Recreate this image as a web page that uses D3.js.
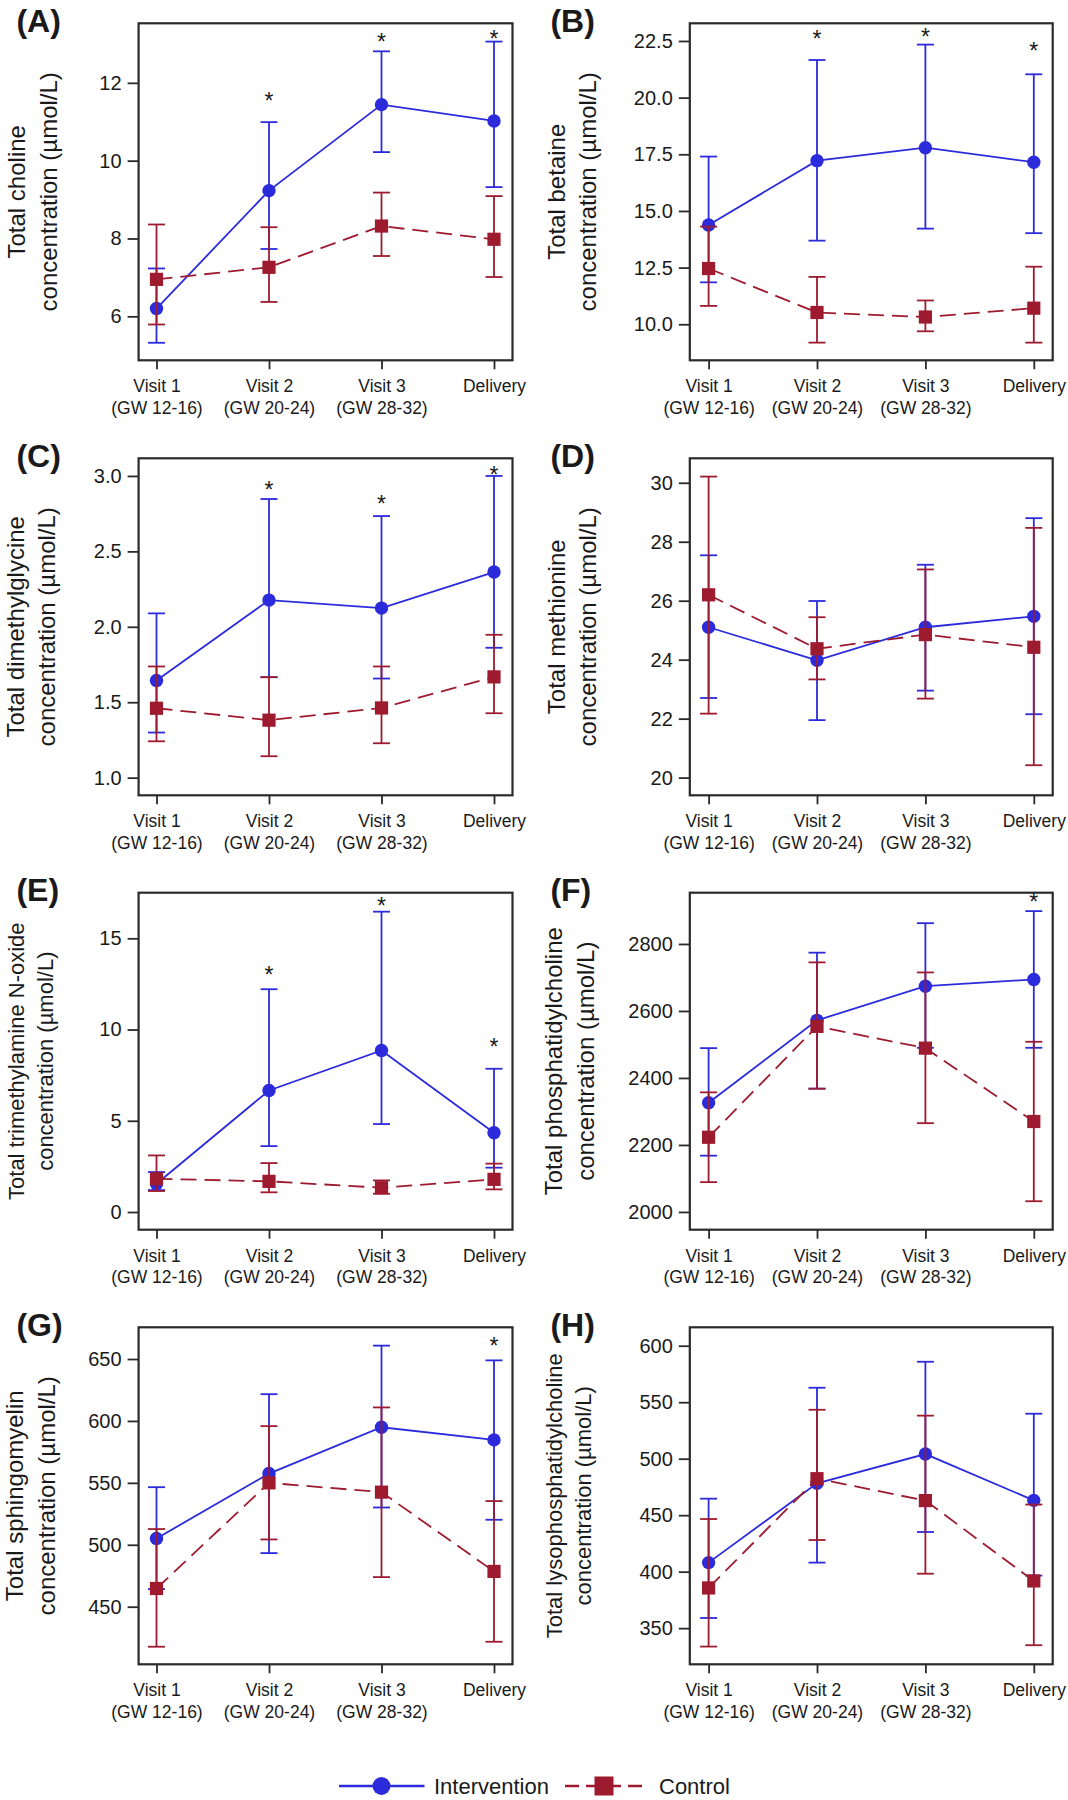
<!DOCTYPE html>
<html>
<head>
<meta charset="utf-8">
<script src="https://cdn.jsdelivr.net/npm/d3@7"></script>
<style>
    body { margin: 0; background: #fff; }
    svg { display: block; }
    text { font-family: "Liberation Sans", Arial, Helvetica, sans-serif; fill: #1a1a1a; }
</style>
</head>
<body>
<svg id="chart" width="1068" height="1800"></svg>
<script>
// x categories
const visits = ['Visit 1', 'Visit 2', 'Visit 3', 'Delivery'];
const visitWeeks = ['(GW 12-16)', '(GW 20-24)', '(GW 28-32)', ''];

const panelIds = ['A', 'B', 'C', 'D', 'E', 'F', 'G', 'H'];
const titleTop = [
    'Total choline', 'Total betaine', 'Total dimethylglycine', 'Total methionine',
    'Total trimethylamine N-oxide', 'Total phosphatidylcholine',
    'Total sphingomyelin', 'Total lysophosphatidylcholine'
];
const titleBottom = 'concentration (µmol/L)';

// y axes
const yDomains = [
    [4.87, 13.53], [8.41, 23.28], [0.883, 3.117], [19.40, 30.83],
    [-0.97, 17.5], [1947, 2953], [403.5, 675.6], [318, 616.3]
];
const yTicks = [
    [6, 8, 10, 12],
    [10, 12.5, 15, 17.5, 20, 22.5],
    [1, 1.5, 2, 2.5, 3],
    [20, 22, 24, 26, 28, 30],
    [0, 5, 10, 15],
    [2000, 2200, 2400, 2600, 2800],
    [450, 500, 550, 600, 650],
    [350, 400, 450, 500, 550, 600]
];
const yFormats = ['d', '.1f', '.1f', 'd', 'd', 'd', 'd', 'd'];

// Intervention: mean, lower, upper
const intMean = [
    [6.20, 9.23, 11.44, 11.02],
    [14.38, 17.22, 17.79, 17.15],
    [1.644, 2.177, 2.124, 2.363],
    [25.10, 23.98, 25.10, 25.47],
    [1.55, 6.66, 8.85, 4.34],
    [2326, 2572, 2674, 2694],
    [505.1, 557.5, 594.9, 584.7],
    [408, 478.2, 504.1, 463.1]
];
const intLow = [
    [5.32, 7.73, 10.22, 9.32],
    [11.85, 13.69, 14.22, 14.02],
    [1.299, 1.666, 1.657, 1.861],
    [22.70, 21.95, 22.95, 22.15],
    [1.2, 3.61, 4.82, 2.43],
    [2168, 2368, 2490, 2490],
    [464.2, 493.3, 530.1, 520.2],
    [359, 408, 435.1, 396.5]
];
const intHigh = [
    [7.23, 10.99, 12.81, 13.06],
    [17.40, 21.66, 22.34, 21.03],
    [2.089, 2.847, 2.734, 3.0],
    [27.54, 25.99, 27.22, 28.80],
    [2.19, 12.21, 16.46, 7.85],
    [2489, 2774, 2862, 2898],
    [546.5, 621.6, 660.8, 648.9],
    [464.6, 562.8, 585.8, 539.8]
];

// Control: mean, lower, upper
const ctlMean = [
    [6.95, 7.26, 8.32, 7.98],
    [12.46, 10.52, 10.32, 10.71],
    [1.460, 1.381, 1.462, 1.668],
    [26.20, 24.37, 24.85, 24.42],
    [1.82, 1.68, 1.33, 1.79],
    [2223, 2554, 2489, 2270],
    [464.7, 550, 542.5, 478.5],
    [385.6, 482.3, 462.9, 391.8]
];
const ctlLow = [
    [5.79, 6.37, 7.55, 7.01],
    [10.81, 9.19, 9.69, 9.19],
    [1.241, 1.142, 1.228, 1.427],
    [22.17, 23.33, 22.68, 20.42],
    [1.15, 1.08, 1.0, 1.24],
    [2089, 2368, 2265, 2032],
    [417.7, 504.3, 473.9, 421.7],
    [333.7, 428, 398.2, 334.9]
];
const ctlHigh = [
    [8.36, 8.29, 9.18, 9.09],
    [14.31, 12.09, 11.05, 12.54],
    [1.737, 1.666, 1.737, 1.947],
    [30.21, 25.44, 27.06, 28.47],
    [3.10, 2.68, 1.73, 2.65],
    [2357, 2745, 2715, 2508],
    [512.7, 595.8, 610.9, 535.3],
    [446.6, 543.3, 538.1, 459.4]
];

// significance stars (value at star centre), null = none
const stars = [
    [null, 11.64, 13.14, 13.24],
    [null, 22.77, 22.84, 22.25],
    [null, 2.934, 2.841, 3.035],
    [null, null, null, null],
    [null, 13.23, 17.0, 9.25],
    [null, null, null, 2936],
    [null, null, null, 664],
    [null, null, null, null]
];

const BLUE = '#2b2bdc';
const RED = '#9e1b2f';
const FRAME = '#2a2a2a';

// layout of the 2x4 grid
const colFrame = [[138.6, 512.5], [689.8, 1052.7]];
const colTicks = [[156.5, 494], [708.6, 1033.8]];
const colLetterX = [16.4, 550.4];
const rowTop = [23.3, 458.3, 892.7, 1327.3];
const plotH = 337;
const titleX = [[25, 56.9], [564.5, 596], [24.3, 55.2], [564.5, 596],
                [23.5, 53], [561.8, 594.3], [22.6, 54.5], [562, 591]];
const titleSize = [24, 24, 24, 24, 22, 24, 24, 22];

const svg = d3.select('#chart');

function drawPanel(i) {
    const col = i % 2;
    const row = Math.floor(i / 2);
    const [x0, x1] = colFrame[col];
    const top = rowTop[row];
    const bottom = top + plotH;

    const x = d3.scalePoint().domain(visits).range(colTicks[col]);
    const y = d3.scaleLinear().domain(yDomains[i]).range([bottom, top]);

    const g = svg.append('g').attr('class', 'panel-' + panelIds[i]);

    // y axis
    const yAxis = d3.axisLeft(y)
        .tickValues(yTicks[i])
        .tickFormat(d3.format(yFormats[i]))
        .tickSize(11)
        .tickPadding(6);
    const ya = g.append('g').attr('transform', `translate(${x0},0)`).call(yAxis);
    ya.select('.domain').remove();
    ya.selectAll('.tick line').attr('stroke', FRAME).attr('stroke-width', 1.8);
    ya.selectAll('.tick text')
        .attr('font-size', 20)
        .attr('font-family', '"Liberation Sans", Arial, sans-serif')
        .attr('fill', '#1a1a1a');

    // x axis
    const xAxis = d3.axisBottom(x).tickSize(9).tickFormat('');
    const xa = g.append('g').attr('transform', `translate(0,${bottom})`).call(xAxis);
    xa.select('.domain').remove();
    xa.selectAll('.tick line').attr('stroke', FRAME).attr('stroke-width', 1.8);
    xa.selectAll('.tick').each(function(d, k) {
        const t = d3.select(this).append('text')
            .attr('text-anchor', 'middle')
            .attr('font-size', 17.5)
            .attr('fill', '#1a1a1a');
        t.append('tspan').attr('x', 0).attr('y', 32).text(d);
        if (visitWeeks[k]) {
            t.append('tspan').attr('x', 0).attr('y', 53.3).text(visitWeeks[k]);
        }
    });

    // frame
    g.append('rect')
        .attr('x', x0).attr('y', top)
        .attr('width', x1 - x0).attr('height', plotH)
        .attr('fill', 'none')
        .attr('stroke', FRAME)
        .attr('stroke-width', 2.2);

    // y title, two lines
    const midY = (top + bottom) / 2;
    [titleTop[i], titleBottom].forEach((txt, k) => {
        g.append('text')
            .attr('transform', `translate(${titleX[i][k]},${midY}) rotate(-90)`)
            .attr('text-anchor', 'middle')
            .attr('font-size', titleSize[i])
            .text(txt);
    });

    // panel letter
    g.append('text')
        .attr('x', colLetterX[col])
        .attr('y', top + 8.4)
        .attr('font-size', 32)
        .attr('font-weight', 'bold')
        .attr('fill', '#111')
        .text(`(${panelIds[i]})`);

    drawSeries(g, x, y, intMean[i], intLow[i], intHigh[i], BLUE, 'circle');
    drawSeries(g, x, y, ctlMean[i], ctlLow[i], ctlHigh[i], RED, 'square');

    // stars
    stars[i].forEach((s, k) => {
        if (s === null) return;
        g.append('text')
            .attr('x', x(visits[k]))
            .attr('y', y(s) + 12)
            .attr('text-anchor', 'middle')
            .attr('font-size', 23)
            .text('*');
    });
}

function drawSeries(g, x, y, mean, low, high, color, shape) {
    const pts = visits.map((v, k) => ({ v, m: mean[k], lo: low[k], hi: high[k] }));
    const sg = g.append('g');

    // connecting line
    const line = d3.line().x(d => x(d.v)).y(d => y(d.m));
    sg.append('path')
        .datum(pts)
        .attr('d', line)
        .attr('fill', 'none')
        .attr('stroke', color)
        .attr('stroke-width', 1.8)
        .attr('stroke-dasharray', shape === 'square' ? '16,8' : null);

    // error bars
    const eb = sg.selectAll('.eb').data(pts).enter().append('g')
        .attr('stroke', color)
        .attr('stroke-width', 1.8);
    eb.append('line')
        .attr('x1', d => x(d.v)).attr('x2', d => x(d.v))
        .attr('y1', d => y(d.lo)).attr('y2', d => y(d.hi));
    ['lo', 'hi'].forEach(key => {
        eb.append('line')
            .attr('x1', d => x(d.v) - 8.5).attr('x2', d => x(d.v) + 8.5)
            .attr('y1', d => y(d[key])).attr('y2', d => y(d[key]));
    });

    // markers
    if (shape === 'circle') {
        sg.selectAll('.mk').data(pts).enter().append('circle')
            .attr('cx', d => x(d.v))
            .attr('cy', d => y(d.m))
            .attr('r', 6.7)
            .attr('fill', color);
    } else {
        sg.selectAll('.mk').data(pts).enter().append('rect')
            .attr('x', d => x(d.v) - 6.6)
            .attr('y', d => y(d.m) - 6.6)
            .attr('width', 13.2)
            .attr('height', 13.2)
            .attr('fill', color);
    }
}

// legend
function drawLegend() {
    const ly = 1786;
    const lg = svg.append('g').attr('class', 'legend');

    lg.append('line')
        .attr('x1', 339).attr('x2', 424.5).attr('y1', ly).attr('y2', ly)
        .attr('stroke', BLUE).attr('stroke-width', 2.4);
    lg.append('circle')
        .attr('cx', 381.5).attr('cy', ly).attr('r', 9)
        .attr('fill', BLUE);
    lg.append('text')
        .attr('x', 434).attr('y', ly + 8)
        .attr('font-size', 22)
        .text('Intervention');

    lg.append('line')
        .attr('x1', 565).attr('x2', 642.5).attr('y1', ly).attr('y2', ly)
        .attr('stroke', RED).attr('stroke-width', 2.4)
        .attr('stroke-dasharray', '14,7');
    lg.append('rect')
        .attr('x', 604 - 9.5).attr('y', ly - 9.5)
        .attr('width', 19).attr('height', 19)
        .attr('fill', RED);
    lg.append('text')
        .attr('x', 659).attr('y', ly + 8)
        .attr('font-size', 22)
        .text('Control');
}

panelIds.forEach((id, i) => drawPanel(i));
drawLegend();
</script>
</body>
</html>
